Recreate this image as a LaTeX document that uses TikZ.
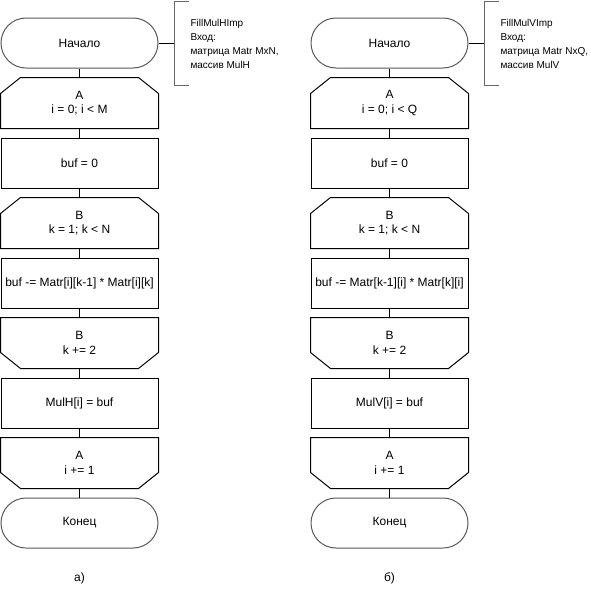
\documentclass[tikz,border=0pt]{standalone}
\usepackage{fontspec}
\setmainfont{Liberation Sans}
\begin{document}
\begin{tikzpicture}[x=1pt,y=-1pt,line width=1pt,
  base/.style={minimum width=157pt,minimum height=50pt,inner sep=0pt,align=center,
    font=\fontsize{12}{14.4}\selectfont},
  term/.style={base,draw=black!65,rounded corners=25pt},
  proc/.style={base,draw},
  loopshape/.style={base},
  note/.style={anchor=north west,inner sep=0pt,align=left,
    font=\fontsize{10}{14}\selectfont},
  sublabel/.style={font=\fontsize{12}{14.4}\selectfont},
  link/.style={draw},
  bracket/.style={draw=black!60}]
\useasboundingbox (0,0) rectangle (591,589);

% loop start: top corners cut off
\newcommand{\loopopen}[1]{%
  \draw ([xshift=20pt]#1.north west) -- ([xshift=-20pt]#1.north east)
    -- ([yshift=-16pt]#1.north east) -- (#1.south east) -- (#1.south west)
    -- ([yshift=-16pt]#1.north west) -- cycle;}
% loop end: bottom corners cut off
\newcommand{\loopclose}[1]{%
  \draw (#1.north west) -- (#1.north east)
    -- ([yshift=16pt]#1.south east) -- ([xshift=-20pt]#1.south east)
    -- ([xshift=20pt]#1.south west) -- ([yshift=16pt]#1.south west) -- cycle;}

% ---------------- left chart ----------------
\node[term] (l1) at (79.5,43) {Начало};
\node[loopshape] (l2) at (79.5,103) {A\\i = 0; i < M};
\node[proc] (l3) at (79.5,163) {buf = 0};
\node[loopshape] (l4) at (79.5,223) {B\\k = 1; k < N};
\node[proc] (l5) at (79.5,283) {buf -= Matr[i][k-1] * Matr[i][k]};
\node[loopshape] (l6) at (79.5,343) {B\\k += 2};
\node[proc] (l7) at (79.5,403) {MulH[i] = buf};
\node[loopshape] (l8) at (79.5,463) {A\\i += 1};
\node[term] (l9) at (79.5,523) {Конец};
\loopopen{l2}\loopopen{l4}\loopclose{l6}\loopclose{l8}
\foreach \a/\b in {l1/l2,l2/l3,l3/l4,l4/l5,l5/l6,l6/l7,l7/l8,l8/l9}
  \draw[link] (\a.south) -- (\b.north);

\coordinate (lb) at (174,43);
\draw[link] (l1.east) -- (lb);
\draw[bracket] (189,1) -- (174,1) -- (174,85) -- (189,85);
\node[note] (ln) at (190,18.5) {FillMulHImp\\Вход:\\матрица Matr MxN,\\массив MulH};
\node[sublabel] (lc) at (79.5,578) {а)};

% ---------------- right chart ----------------
\node[term] (r1) at (389.5,43) {Начало};
\node[loopshape] (r2) at (389.5,103) {A\\i = 0; i < Q};
\node[proc] (r3) at (389.5,163) {buf = 0};
\node[loopshape] (r4) at (389.5,223) {B\\k = 1; k < N};
\node[proc] (r5) at (389.5,283) {buf -= Matr[k-1][i] * Matr[k][i]};
\node[loopshape] (r6) at (389.5,343) {B\\k += 2};
\node[proc] (r7) at (389.5,403) {MulV[i] = buf};
\node[loopshape] (r8) at (389.5,463) {A\\i += 1};
\node[term] (r9) at (389.5,523) {Конец};
\loopopen{r2}\loopopen{r4}\loopclose{r6}\loopclose{r8}
\foreach \a/\b in {r1/r2,r2/r3,r3/r4,r4/r5,r5/r6,r6/r7,r7/r8,r8/r9}
  \draw[link] (\a.south) -- (\b.north);

\coordinate (rb) at (484,43);
\draw[link] (r1.east) -- (rb);
\draw[bracket] (499,1) -- (484,1) -- (484,85) -- (499,85);
\node[note] (rn) at (500,18.5) {FillMulVImp\\Вход:\\матрица Matr NxQ,\\массив MulV};
\node[sublabel] (rc) at (389.5,578) {б)};
\end{tikzpicture}
\end{document}
